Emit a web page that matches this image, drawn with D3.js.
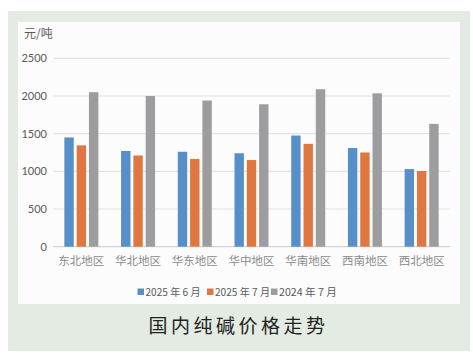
<!DOCTYPE html>
<html><head><meta charset="utf-8">
<script src="https://cdn.jsdelivr.net/npm/d3@7"></script>
<style>html,body{margin:0;padding:0;background:#fff;}svg{display:block;}</style>
</head><body>
<svg id="c" width="473" height="361"></svg>
<script>
const categories = ["东北地区","华北地区","华东地区","华中地区","华南地区","西南地区","西北地区"];
const seriesNames = ["2025 年 6 月","2025 年 7 月","2024 年 7 月"];
const jun2025 = [1450,1270,1260,1240,1475,1310,1030];
const jul2025 = [1345,1210,1165,1150,1365,1250,1005];
const jul2024 = [2050,2000,1940,1890,2090,2035,1630];
const yTicks = [0,500,1000,1500,2000,2500];
const colors = ["#5790c8","#e07741","#9d9d9f"];
const series = [jun2025, jul2025, jul2024];

const svg = d3.select("#c");
svg.append("rect").attr("x",8).attr("y",11).attr("width",462).attr("height",340).attr("fill","#e3ebe3");
svg.append("rect").attr("x",18).attr("y",22).attr("width",442).attr("height",282).attr("fill","#fcfcfc");

const x = d3.scaleBand().domain(categories).range([53,450]);
const y = d3.scaleLinear().domain([0,2500]).range([246.7,58.3]);

const grid = svg.append("g");
yTicks.forEach(t=>{
  grid.append("line").attr("x1",53).attr("x2",450).attr("y1",y(t)).attr("y2",y(t))
    .attr("stroke", t===0 ? "#d6d2d2" : "#e6e0e0").attr("stroke-width",1.2);
});
const yAxis = d3.axisLeft(y).tickValues(yTicks).tickSize(0).tickPadding(0).tickFormat(d3.format("d"));
const ya = svg.append("g").attr("transform","translate(47,0)").call(yAxis);
ya.select(".domain").remove();
ya.selectAll("text").attr("font-family","Lato, 'Open Sans', sans-serif").attr("font-size",11).attr("fill","#595959");

svg.append("text").attr("x",24).attr("y",38).text("元/吨")
  .attr("font-family","'Noto Sans CJK SC', sans-serif").attr("font-size",12).attr("fill","#595959");

const bw = 9.4, gap = 2.9;
const inner = d3.scaleBand().domain([0,1,2]).range([0, 3*bw+2*gap]).paddingInner(gap/(bw+gap));
categories.forEach((c,i)=>{
  const cx = x(c) + x.bandwidth()/2 - (3*bw+2*gap)/2;
  series.forEach((s,k)=>{
    svg.append("rect").attr("x",cx+inner(k)).attr("y",y(s[i])).attr("width",inner.bandwidth())
      .attr("height",y(0)-y(s[i])).attr("fill",colors[k]);
  });
});

const xAxis = d3.axisBottom(x).tickSize(0).tickPadding(0);
const xa = svg.append("g").attr("transform","translate(0,257)").call(xAxis);
xa.select(".domain").remove();
xa.selectAll("text").attr("font-family","'Noto Sans CJK SC', sans-serif").attr("font-size",11.5)
  .attr("fill","#8a8a8a").attr("dy","0.71em");

// legend
const legX = [137.5, 207, 271];
const legLen = [55, 55, 58];
seriesNames.forEach((n,k)=>{
  svg.append("rect").attr("x",legX[k]).attr("y",288.5).attr("width",6.5).attr("height",6.5).attr("fill",colors[k]);
  svg.append("text").attr("x",legX[k]+8).attr("y",296).text(n)
    .attr("font-family","'Noto Sans CJK SC', sans-serif").attr("font-size",10.5).attr("fill","#595959")
    .attr("textLength",legLen[k]).attr("lengthAdjust","spacingAndGlyphs");
});

svg.append("text").attr("x",238.5).attr("y",333).attr("text-anchor","middle").text("国内纯碱价格走势")
  .attr("font-family","'Noto Sans CJK SC', sans-serif").attr("font-size",19).attr("letter-spacing","3.5px").attr("fill","#222");
</script>
</body></html>
